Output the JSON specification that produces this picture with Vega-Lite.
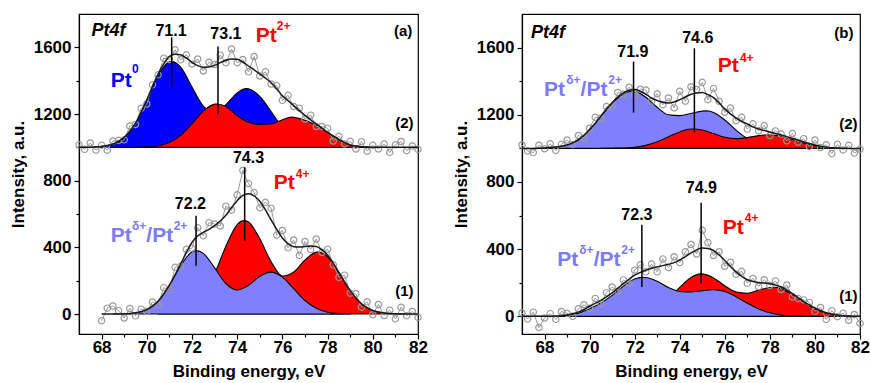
{
"$schema":"https://vega.github.io/schema/vega-lite/v6.json",
"autosize":{"type":"pad"},
"padding":{"left":8,"top":13,"right":0,"bottom":0},
"config":{"font":"Liberation Sans","view":{"stroke":"#000","strokeWidth":1.2},
"axis":{"grid":false,"domainColor":"#000","domainWidth":1.2,"tickColor":"#000","tickWidth":1.2,"labelColor":"#000","titleColor":"#000","labelFont":"Liberation Sans","titleFont":"Liberation Sans","labelFontWeight":"bold","titleFontWeight":"bold","labelFontSize":17,"titleFontSize":17,"labelFlush":false,"labelOverlap":false}},
"datasets":{
"a2":[{"x":67,"y":1015,"f":1000},{"x":67.25,"y":988,"f":1000},{"x":67.5,"y":1026,"f":1001},{"x":67.75,"y":983,"f":1003},{"x":68,"y":1013,"f":1005},{"x":68.25,"y":983,"f":1011},{"x":68.5,"y":1038,"f":1020},{"x":68.75,"y":1042,"f":1037},{"x":69,"y":1045,"f":1060},{"x":69.25,"y":1128,"f":1098},{"x":69.5,"y":1137,"f":1145},{"x":69.75,"y":1234,"f":1212},{"x":70,"y":1260,"f":1285},{"x":70.25,"y":1375,"f":1365},{"x":70.5,"y":1435,"f":1440},{"x":70.75,"y":1535,"f":1500},{"x":71,"y":1527,"f":1545},{"x":71.25,"y":1585,"f":1558},{"x":71.5,"y":1525,"f":1555},{"x":71.75,"y":1555,"f":1535},{"x":72,"y":1500,"f":1510},{"x":72.25,"y":1530,"f":1490},{"x":72.5,"y":1458,"f":1480},{"x":72.75,"y":1510,"f":1482},{"x":73,"y":1497,"f":1492},{"x":73.25,"y":1553,"f":1508},{"x":73.5,"y":1507,"f":1522},{"x":73.75,"y":1590,"f":1530},{"x":74,"y":1508,"f":1528},{"x":74.25,"y":1527,"f":1512},{"x":74.5,"y":1453,"f":1488},{"x":74.75,"y":1545,"f":1465},{"x":75,"y":1428,"f":1440},{"x":75.25,"y":1453,"f":1415},{"x":75.5,"y":1380,"f":1388},{"x":75.75,"y":1370,"f":1350},{"x":76,"y":1282,"f":1310},{"x":76.25,"y":1312,"f":1280},{"x":76.5,"y":1245,"f":1250},{"x":76.75,"y":1235,"f":1220},{"x":77,"y":1170,"f":1192},{"x":77.25,"y":1193,"f":1165},{"x":77.5,"y":1125,"f":1140},{"x":77.75,"y":1125,"f":1115},{"x":78,"y":1115,"f":1090},{"x":78.25,"y":1038,"f":1068},{"x":78.5,"y":1066,"f":1048},{"x":78.75,"y":1020,"f":1028},{"x":79,"y":1036,"f":1014},{"x":79.25,"y":990,"f":1008},{"x":79.5,"y":1034,"f":1004},{"x":79.75,"y":977,"f":1002},{"x":80,"y":1012,"f":1000},{"x":80.25,"y":990,"f":1000},{"x":80.5,"y":1020,"f":1000},{"x":80.75,"y":970,"f":1000},{"x":81,"y":1015,"f":1000},{"x":81.25,"y":1035,"f":1000},{"x":81.5,"y":980,"f":1000},{"x":81.75,"y":1008,"f":1000},{"x":82,"y":988,"f":1000}],
"a1":[{"x":68,"y":-40,"f":0},{"x":68.25,"y":35,"f":0},{"x":68.5,"y":48,"f":0},{"x":68.75,"y":20,"f":0},{"x":69,"y":-24,"f":1},{"x":69.25,"y":33,"f":3},{"x":69.5,"y":-11,"f":7},{"x":69.75,"y":29,"f":14},{"x":70,"y":16,"f":26},{"x":70.25,"y":72,"f":47},{"x":70.5,"y":55,"f":77},{"x":70.75,"y":158,"f":120},{"x":71,"y":143,"f":173},{"x":71.25,"y":280,"f":235},{"x":71.5,"y":286,"f":301},{"x":71.75,"y":388,"f":368},{"x":72,"y":395,"f":430},{"x":72.25,"y":518,"f":468},{"x":72.5,"y":470,"f":490},{"x":72.75,"y":548,"f":508},{"x":73,"y":540,"f":530},{"x":73.25,"y":528,"f":558},{"x":73.5,"y":647,"f":592},{"x":73.75,"y":623,"f":638},{"x":74,"y":715,"f":680},{"x":74.25,"y":862,"f":712},{"x":74.5,"y":782,"f":722},{"x":74.75,"y":728,"f":708},{"x":75,"y":637,"f":677},{"x":75.25,"y":670,"f":625},{"x":75.5,"y":635,"f":565},{"x":75.75,"y":473,"f":508},{"x":76,"y":501,"f":456},{"x":76.25,"y":397,"f":422},{"x":76.5,"y":444,"f":404},{"x":76.75,"y":352,"f":402},{"x":77,"y":435,"f":405},{"x":77.25,"y":388,"f":408},{"x":77.5,"y":450,"f":405},{"x":77.75,"y":370,"f":385},{"x":78,"y":389,"f":354},{"x":78.25,"y":295,"f":305},{"x":78.5,"y":220,"f":250},{"x":78.75,"y":233,"f":193},{"x":79,"y":125,"f":140},{"x":79.25,"y":121,"f":96},{"x":79.5,"y":41,"f":61},{"x":79.75,"y":73,"f":38},{"x":80,"y":-4,"f":21},{"x":80.25,"y":57,"f":12},{"x":80.5,"y":-9,"f":6},{"x":80.75,"y":23,"f":3},{"x":81,"y":-29,"f":1},{"x":81.25,"y":40,"f":0},{"x":81.5,"y":-10,"f":0},{"x":81.75,"y":15,"f":0},{"x":82,"y":-20,"f":0}],
"b2":[{"x":67,"y":1020,"f":1000},{"x":67.25,"y":985,"f":1000},{"x":67.5,"y":975,"f":1000},{"x":67.75,"y":1019,"f":1001},{"x":68,"y":998,"f":1003},{"x":68.25,"y":1027,"f":1005},{"x":68.5,"y":988,"f":1008},{"x":68.75,"y":1025,"f":1013},{"x":69,"y":1050,"f":1020},{"x":69.25,"y":1023,"f":1033},{"x":69.5,"y":1077,"f":1052},{"x":69.75,"y":1060,"f":1078},{"x":70,"y":1120,"f":1112},{"x":70.25,"y":1185,"f":1150},{"x":70.5,"y":1180,"f":1192},{"x":70.75,"y":1249,"f":1234},{"x":71,"y":1247,"f":1272},{"x":71.25,"y":1333,"f":1305},{"x":71.5,"y":1322,"f":1330},{"x":71.75,"y":1364,"f":1346},{"x":72,"y":1320,"f":1350},{"x":72.25,"y":1352,"f":1340},{"x":72.5,"y":1347,"f":1322},{"x":72.75,"y":1280,"f":1300},{"x":73,"y":1325,"f":1285},{"x":73.25,"y":1260,"f":1275},{"x":73.5,"y":1300,"f":1270},{"x":73.75,"y":1241,"f":1276},{"x":74,"y":1340,"f":1290},{"x":74.25,"y":1281,"f":1306},{"x":74.5,"y":1367,"f":1322},{"x":74.75,"y":1350,"f":1330},{"x":75,"y":1393,"f":1333},{"x":75.25,"y":1290,"f":1320},{"x":75.5,"y":1357,"f":1302},{"x":75.75,"y":1280,"f":1270},{"x":76,"y":1215,"f":1235},{"x":76.25,"y":1240,"f":1205},{"x":76.5,"y":1165,"f":1180},{"x":76.75,"y":1185,"f":1160},{"x":77,"y":1115,"f":1145},{"x":77.25,"y":1146,"f":1128},{"x":77.5,"y":1105,"f":1115},{"x":77.75,"y":1136,"f":1106},{"x":78,"y":1076,"f":1098},{"x":78.25,"y":1104,"f":1089},{"x":78.5,"y":1085,"f":1080},{"x":78.75,"y":1045,"f":1070},{"x":79,"y":1088,"f":1060},{"x":79.25,"y":1037,"f":1049},{"x":79.5,"y":1058,"f":1038},{"x":79.75,"y":1011,"f":1029},{"x":80,"y":1050,"f":1020},{"x":80.25,"y":1005,"f":1013},{"x":80.5,"y":1022,"f":1007},{"x":80.75,"y":969,"f":1004},{"x":81,"y":1024,"f":1002},{"x":81.25,"y":991,"f":1001},{"x":81.5,"y":1018,"f":1000},{"x":81.75,"y":972,"f":1000},{"x":82,"y":995,"f":1000}],
"b1":[{"x":67,"y":20,"f":0},{"x":67.25,"y":-15,"f":0},{"x":67.5,"y":25,"f":0},{"x":67.75,"y":-66,"f":0},{"x":68,"y":-10,"f":0},{"x":68.25,"y":16,"f":1},{"x":68.5,"y":-18,"f":2},{"x":68.75,"y":29,"f":4},{"x":69,"y":18,"f":8},{"x":69.25,"y":0,"f":15},{"x":69.5,"y":45,"f":25},{"x":69.75,"y":69,"f":41},{"x":70,"y":48,"f":60},{"x":70.25,"y":107,"f":77},{"x":70.5,"y":75,"f":95},{"x":70.75,"y":141,"f":116},{"x":71,"y":175,"f":140},{"x":71.25,"y":149,"f":167},{"x":71.5,"y":217,"f":195},{"x":71.75,"y":196,"f":221},{"x":72,"y":275,"f":245},{"x":72.25,"y":307,"f":262},{"x":72.5,"y":265,"f":275},{"x":72.75,"y":311,"f":286},{"x":73,"y":265,"f":295},{"x":73.25,"y":342,"f":302},{"x":73.5,"y":290,"f":310},{"x":73.75,"y":355,"f":320},{"x":74,"y":320,"f":335},{"x":74.25,"y":384,"f":356},{"x":74.5,"y":428,"f":378},{"x":74.75,"y":371,"f":396},{"x":75,"y":512,"f":407},{"x":75.25,"y":439,"f":404},{"x":75.5,"y":362,"f":392},{"x":75.75,"y":385,"f":365},{"x":76,"y":298,"f":333},{"x":76.25,"y":322,"f":297},{"x":76.5,"y":250,"f":265},{"x":76.75,"y":268,"f":238},{"x":77,"y":198,"f":218},{"x":77.25,"y":226,"f":208},{"x":77.5,"y":177,"f":202},{"x":77.75,"y":218,"f":198},{"x":78,"y":184,"f":194},{"x":78.25,"y":211,"f":186},{"x":78.5,"y":160,"f":175},{"x":78.75,"y":187,"f":157},{"x":79,"y":116,"f":136},{"x":79.25,"y":107,"f":112},{"x":79.5,"y":98,"f":88},{"x":79.75,"y":83,"f":68},{"x":80,"y":30,"f":50},{"x":80.25,"y":53,"f":35},{"x":80.5,"y":-18,"f":22},{"x":80.75,"y":34,"f":14},{"x":81,"y":-2,"f":8},{"x":81.25,"y":19,"f":4},{"x":81.5,"y":-23,"f":2},{"x":81.75,"y":11,"f":1},{"x":82,"y":-42,"f":0}],
"a2blue":[{"x":67.5,"y":1000},{"x":68,"y":1004},{"x":68.5,"y":1018},{"x":69,"y":1057},{"x":69.5,"y":1143},{"x":70,"y":1282},{"x":70.5,"y":1431},{"x":71,"y":1514},{"x":71.1,"y":1516},{"x":71.5,"y":1481},{"x":72,"y":1362},{"x":72.5,"y":1248},{"x":73,"y":1211},{"x":73.5,"y":1256},{"x":74,"y":1327},{"x":74.4,"y":1352},{"x":74.5,"y":1351},{"x":75,"y":1305},{"x":75.5,"y":1215},{"x":76,"y":1120},{"x":76.5,"y":1055},{"x":77,"y":1020},{"x":77.5,"y":1006},{"x":78,"y":1000}],
"a2red":[{"x":69.5,"y":1000},{"x":70,"y":1002},{"x":70.5,"y":1009},{"x":71,"y":1029},{"x":71.5,"y":1072},{"x":72,"y":1142},{"x":72.5,"y":1217},{"x":73,"y":1259},{"x":73.1,"y":1260},{"x":73.5,"y":1245},{"x":74,"y":1190},{"x":74.5,"y":1150},{"x":75,"y":1138},{"x":75.5,"y":1140},{"x":76,"y":1165},{"x":76.4,"y":1181},{"x":76.5,"y":1180},{"x":77,"y":1163},{"x":77.5,"y":1133},{"x":78,"y":1090},{"x":78.5,"y":1045},{"x":79,"y":1015},{"x":79.5,"y":1004},{"x":80,"y":1000}],
"a1lb":[{"x":68.5,"y":0},{"x":69,"y":1},{"x":69.5,"y":7},{"x":70,"y":26},{"x":70.5,"y":77},{"x":71,"y":171},{"x":71.5,"y":290},{"x":72,"y":373},{"x":72.2,"y":380},{"x":72.5,"y":364},{"x":73,"y":277},{"x":73.5,"y":183},{"x":74,"y":144},{"x":74.5,"y":172},{"x":75,"y":226},{"x":75.5,"y":251},{"x":76,"y":221},{"x":76.5,"y":152},{"x":77,"y":81},{"x":77.5,"y":34},{"x":78,"y":11},{"x":78.5,"y":3},{"x":79,"y":0}],
"a1red":[{"x":70.5,"y":0},{"x":71,"y":2},{"x":71.5,"y":11},{"x":72,"y":40},{"x":72.5,"y":111},{"x":73,"y":241},{"x":73.5,"y":407},{"x":74,"y":536},{"x":74.3,"y":560},{"x":74.5,"y":552},{"x":75,"y":451},{"x":75.5,"y":314},{"x":76,"y":228},{"x":76.5,"y":252},{"x":77,"y":324},{"x":77.5,"y":371},{"x":77.6,"y":372},{"x":78,"y":343},{"x":78.5,"y":247},{"x":79,"y":139},{"x":79.5,"y":61},{"x":80,"y":21},{"x":80.5,"y":6},{"x":81,"y":1},{"x":81.5,"y":0}],
"b2lb":[{"x":67.5,"y":1000},{"x":68,"y":1003},{"x":68.5,"y":1008},{"x":69,"y":1020},{"x":69.5,"y":1050},{"x":70,"y":1110},{"x":70.5,"y":1190},{"x":71,"y":1268},{"x":71.5,"y":1325},{"x":71.9,"y":1342},{"x":72,"y":1341},{"x":72.5,"y":1304},{"x":73,"y":1245},{"x":73.5,"y":1200},{"x":74,"y":1195},{"x":74.5,"y":1208},{"x":75,"y":1222},{"x":75.2,"y":1223},{"x":75.5,"y":1214},{"x":76,"y":1169},{"x":76.5,"y":1109},{"x":77,"y":1058},{"x":77.5,"y":1025},{"x":78,"y":1009},{"x":78.5,"y":1002},{"x":79,"y":1000}],
"b2red":[{"x":70.5,"y":1000},{"x":71,"y":1001},{"x":71.5,"y":1002},{"x":72,"y":1007},{"x":72.5,"y":1018},{"x":73,"y":1040},{"x":73.5,"y":1069},{"x":74,"y":1098},{"x":74.5,"y":1115},{"x":74.6,"y":1115},{"x":75,"y":1109},{"x":75.5,"y":1088},{"x":76,"y":1066},{"x":76.5,"y":1058},{"x":77,"y":1064},{"x":77.5,"y":1076},{"x":78,"y":1081},{"x":78.5,"y":1072},{"x":79,"y":1053},{"x":79.5,"y":1032},{"x":80,"y":1015},{"x":80.5,"y":1006},{"x":81,"y":1002},{"x":81.5,"y":1000}],
"b1lb":[{"x":67.5,"y":0},{"x":68,"y":0},{"x":68.5,"y":2},{"x":69,"y":6},{"x":69.5,"y":18},{"x":70,"y":45},{"x":70.5,"y":80},{"x":71,"y":125},{"x":71.5,"y":180},{"x":72,"y":222},{"x":72.3,"y":232},{"x":72.5,"y":231},{"x":73,"y":209},{"x":73.5,"y":172},{"x":74,"y":148},{"x":74.5,"y":145},{"x":75,"y":153},{"x":75.5,"y":158},{"x":76,"y":148},{"x":76.5,"y":117},{"x":77,"y":78},{"x":77.5,"y":44},{"x":78,"y":21},{"x":78.5,"y":8},{"x":79,"y":3},{"x":79.5,"y":1},{"x":80,"y":0}],
"b1red":[{"x":71,"y":0},{"x":71.5,"y":2},{"x":72,"y":7},{"x":72.5,"y":21},{"x":73,"y":52},{"x":73.5,"y":105},{"x":74,"y":172},{"x":74.5,"y":231},{"x":74.95,"y":253},{"x":75.5,"y":229},{"x":76,"y":182},{"x":76.5,"y":145},{"x":77,"y":138},{"x":77.5,"y":156},{"x":78,"y":172},{"x":78.2,"y":173},{"x":78.5,"y":165},{"x":79,"y":131},{"x":79.5,"y":85},{"x":80,"y":45},{"x":80.5,"y":19},{"x":81,"y":7},{"x":81.5,"y":2},{"x":82,"y":0}],
"ann":[{"p":"a","x":71.1,"y":1360,"y2":1660},{"p":"a","x":73.15,"y":1200,"y2":1605},{"p":"a","x":74.33,"y":440,"y2":880},{"p":"a","x":72.18,"y":290,"y2":590},{"p":"b","x":71.95,"y":1213,"y2":1517},{"p":"b","x":74.65,"y":1095,"y2":1596},{"p":"b","x":74.95,"y":195,"y2":677},{"p":"b","x":72.32,"y":175,"y2":545}],
"txt":[
{"p":"a","role":"head","x":67.55,"y":1696,"t":"Pt4f"},
{"p":"a","role":"tag","x":81.75,"y":1696,"t":"(a)"},
{"p":"a","role":"value","x":71.07,"y":1696,"t":"71.1"},
{"p":"a","role":"value","x":73.5,"y":1678,"t":"73.1"},
{"p":"a","role":"species","sp":"Pt2+","x":74.82,"y":1666,"t":"Pt"},
{"p":"a","role":"charge","sp":"Pt2+","x":75.75,"y":1726,"t":"2+"},
{"p":"a","role":"species","sp":"Pt0","x":68.41,"y":1396,"t":"Pt"},
{"p":"a","role":"charge","sp":"Pt0","x":69.34,"y":1468,"t":"0"},
{"p":"a","role":"tag","x":81.8,"y":1146,"t":"(2)"},
{"p":"a","role":"value","x":74.5,"y":936,"t":"74.3"},
{"p":"a","role":"species","sp":"Pt4+","x":75.62,"y":786,"t":"Pt"},
{"p":"a","role":"charge","sp":"Pt4+","x":76.59,"y":838,"t":"4+"},
{"p":"a","role":"value","x":71.93,"y":660,"t":"72.2"},
{"p":"a","role":"species","sp":"Ptd","x":68.41,"y":470,"t":"Pt"},
{"p":"a","role":"charge","sp":"Ptd","x":69.34,"y":530,"t":"δ+"},
{"p":"a","role":"species","sp":"Ptd","x":69.98,"y":470,"t":"/Pt"},
{"p":"a","role":"charge","sp":"Ptd","x":71.19,"y":530,"t":"2+"},
{"p":"a","role":"tag","x":81.8,"y":140,"t":"(1)"},
{"p":"b","role":"head","x":67.4,"y":1687,"t":"Pt4f"},
{"p":"b","role":"tag","x":81.71,"y":1687,"t":"(b)"},
{"p":"b","role":"value","x":71.92,"y":1576,"t":"71.9"},
{"p":"b","role":"value","x":74.8,"y":1655,"t":"74.6"},
{"p":"b","role":"species","sp":"Pt4+","x":75.69,"y":1488,"t":"Pt"},
{"p":"b","role":"charge","sp":"Pt4+","x":76.67,"y":1537,"t":"4+"},
{"p":"b","role":"species","sp":"Ptd","x":67.98,"y":1350,"t":"Pt"},
{"p":"b","role":"charge","sp":"Ptd","x":68.96,"y":1409,"t":"δ+"},
{"p":"b","role":"species","sp":"Ptd","x":69.6,"y":1350,"t":"/Pt"},
{"p":"b","role":"charge","sp":"Ptd","x":70.83,"y":1409,"t":"2+"},
{"p":"b","role":"tag","x":81.89,"y":1144,"t":"(2)"},
{"p":"b","role":"value","x":74.96,"y":766,"t":"74.9"},
{"p":"b","role":"value","x":72.1,"y":605,"t":"72.3"},
{"p":"b","role":"species","sp":"Pt4+","x":75.91,"y":524,"t":"Pt"},
{"p":"b","role":"charge","sp":"Pt4+","x":76.89,"y":584,"t":"4+"},
{"p":"b","role":"species","sp":"Ptd","x":68.56,"y":334,"t":"Pt"},
{"p":"b","role":"charge","sp":"Ptd","x":69.54,"y":394,"t":"δ+"},
{"p":"b","role":"species","sp":"Ptd","x":70.18,"y":334,"t":"/Pt"},
{"p":"b","role":"charge","sp":"Ptd","x":71.41,"y":394,"t":"2+"},
{"p":"b","role":"tag","x":81.89,"y":124,"t":"(1)"}]
},
"spacing":22,
"resolve":{"scale":{"x":"independent","y":"independent","color":"independent"}},
"hconcat":[
{"width":339,"height":320,
"encoding":{
"x":{"field":"x","type":"quantitative","scale":{"domain":[67,82],"nice":false,"zero":false},"axis":{"title":"Binding energy, eV","values":[68,69,70,71,72,73,74,75,76,77,78,79,80,81,82],"format":"d","labelExpr":"datum.value % 2 === 0 ? datum.label : ''","tickSize":{"condition":{"test":"datum.value % 2 === 0","value":5},"value":3},"labelPadding":0,"titlePadding":8}},
"y":{"field":"y","type":"quantitative","scale":{"domain":[-120,1800],"nice":false,"zero":false},"axis":{"title":"Intensity, a.u.","values":[0,200,400,600,800,1000,1200,1400,1600],"format":"d","labelExpr":"datum.value % 400 === 0 ? datum.label : ''","tickSize":{"condition":{"test":"datum.value % 400 === 0","value":5},"value":3},"labelPadding":3,"titlePadding":8,"minExtent":44,"maxExtent":44}}},
"layer":[
{"data":{"name":"a2blue"},"mark":{"type":"area","fill":"#0000ff","stroke":"#000","strokeWidth":1.1,"interpolate":"monotone"},"encoding":{"y2":{"datum":1000}}},
{"data":{"name":"a2red"},"mark":{"type":"area","fill":"#ff0000","stroke":"#000","strokeWidth":1.1,"interpolate":"monotone"},"encoding":{"y2":{"datum":1000}}},
{"data":{"name":"a1red"},"mark":{"type":"area","fill":"#ff0000","stroke":"#000","strokeWidth":1.1,"interpolate":"monotone"},"encoding":{"y2":{"datum":0}}},
{"data":{"name":"a1lb"},"mark":{"type":"area","fill":"#8080ff","stroke":"#000","strokeWidth":1.1,"interpolate":"monotone"},"encoding":{"y2":{"datum":0}}},
{"data":{"name":"a2"},"mark":{"type":"line","color":"#9a9a9a","strokeWidth":1}},
{"data":{"name":"a1"},"mark":{"type":"line","color":"#9a9a9a","strokeWidth":1}},
{"data":{"name":"a2"},"mark":{"type":"point","filled":false,"color":"#999999","size":40,"strokeWidth":1.2,"opacity":1}},
{"data":{"name":"a1"},"mark":{"type":"point","filled":false,"color":"#999999","size":40,"strokeWidth":1.2,"opacity":1}},
{"data":{"name":"a2"},"mark":{"type":"line","color":"#1a1a1a","strokeWidth":1.5,"interpolate":"monotone"},"encoding":{"y":{"field":"f","type":"quantitative","scale":{"domain":[-120,1800],"nice":false,"zero":false},"axis":{"title":"Intensity, a.u.","values":[0,200,400,600,800,1000,1200,1400,1600],"format":"d","labelExpr":"datum.value % 400 === 0 ? datum.label : ''","tickSize":{"condition":{"test":"datum.value % 400 === 0","value":5},"value":3},"labelPadding":3,"titlePadding":8,"minExtent":44,"maxExtent":44}}}},
{"data":{"name":"a1"},"mark":{"type":"line","color":"#1a1a1a","strokeWidth":1.5,"interpolate":"monotone"},"encoding":{"y":{"field":"f","type":"quantitative","scale":{"domain":[-120,1800],"nice":false,"zero":false},"axis":{"title":"Intensity, a.u.","values":[0,200,400,600,800,1000,1200,1400,1600],"format":"d","labelExpr":"datum.value % 400 === 0 ? datum.label : ''","tickSize":{"condition":{"test":"datum.value % 400 === 0","value":5},"value":3},"labelPadding":3,"titlePadding":8,"minExtent":44,"maxExtent":44}}}},
{"data":{"name":"ann"},"transform":[{"filter":"datum.p === 'a'"}],"mark":{"type":"rule","color":"#000","strokeWidth":1.5},"encoding":{"y2":{"field":"y2"}}},
{"data":{"name":"txt"},"transform":[{"filter":"datum.p === 'a' && datum.role === 'head'"}],"mark":{"type":"text","font":"Liberation Sans","fontSize":18,"fontWeight":"bold","fontStyle":"italic","color":"#000","align":"left","baseline":"middle"},"encoding":{"text":{"field":"t"}}},
{"data":{"name":"txt"},"transform":[{"filter":"datum.p === 'a' && datum.role === 'tag'"}],"mark":{"type":"text","font":"Liberation Sans","fontSize":15,"fontWeight":"bold","color":"#000","align":"right","baseline":"middle"},"encoding":{"text":{"field":"t"}}},
{"data":{"name":"txt"},"transform":[{"filter":"datum.p === 'a' && datum.role === 'value'"}],"mark":{"type":"text","font":"Liberation Sans","fontSize":16,"fontWeight":"bold","color":"#000","align":"center","baseline":"middle"},"encoding":{"text":{"field":"t"}}},
{"data":{"name":"txt"},"transform":[{"filter":"datum.p === 'a' && datum.role === 'species'"}],"mark":{"type":"text","font":"Liberation Sans","fontSize":21,"fontWeight":"bold","align":"left","baseline":"middle"},"encoding":{"text":{"field":"t"},"color":{"field":"sp","type":"nominal","scale":{"domain":["Pt0","Pt2+","Pt4+","Ptd"],"range":["#0000ff","#ff0000","#ff0000","#7b7bf5"]},"legend":null}}},
{"data":{"name":"txt"},"transform":[{"filter":"datum.p === 'a' && datum.role === 'charge'"}],"mark":{"type":"text","font":"Liberation Sans","fontSize":12,"fontWeight":"bold","align":"left","baseline":"middle"},"encoding":{"text":{"field":"t"},"color":{"field":"sp","type":"nominal","scale":{"domain":["Pt0","Pt2+","Pt4+","Ptd"],"range":["#0000ff","#ff0000","#ff0000","#7b7bf5"]},"legend":null}}}
]},
{"width":338,"height":320,
"encoding":{
"x":{"field":"x","type":"quantitative","scale":{"domain":[67,82],"nice":false,"zero":false},"axis":{"title":"Binding energy, eV","values":[68,69,70,71,72,73,74,75,76,77,78,79,80,81,82],"format":"d","labelExpr":"datum.value % 2 === 0 ? datum.label : ''","tickSize":{"condition":{"test":"datum.value % 2 === 0","value":5},"value":3},"labelPadding":0,"titlePadding":8}},
"y":{"field":"y","type":"quantitative","scale":{"domain":[-105,1800],"nice":false,"zero":false},"axis":{"title":"Intensity, a.u.","values":[0,200,400,600,800,1000,1200,1400,1600],"format":"d","labelExpr":"datum.value % 400 === 0 ? datum.label : ''","tickSize":{"condition":{"test":"datum.value % 400 === 0","value":5},"value":3},"labelPadding":3,"titlePadding":8,"minExtent":44,"maxExtent":44}}},
"layer":[
{"data":{"name":"b2lb"},"mark":{"type":"area","fill":"#8080ff","stroke":"#000","strokeWidth":1.1,"interpolate":"monotone"},"encoding":{"y2":{"datum":1000}}},
{"data":{"name":"b2red"},"mark":{"type":"area","fill":"#ff0000","stroke":"#000","strokeWidth":1.1,"interpolate":"monotone"},"encoding":{"y2":{"datum":1000}}},
{"data":{"name":"b1red"},"mark":{"type":"area","fill":"#ff0000","stroke":"#000","strokeWidth":1.1,"interpolate":"monotone"},"encoding":{"y2":{"datum":0}}},
{"data":{"name":"b1lb"},"mark":{"type":"area","fill":"#8080ff","stroke":"#000","strokeWidth":1.1,"interpolate":"monotone"},"encoding":{"y2":{"datum":0}}},
{"data":{"name":"b2"},"mark":{"type":"line","color":"#9a9a9a","strokeWidth":1}},
{"data":{"name":"b1"},"mark":{"type":"line","color":"#9a9a9a","strokeWidth":1}},
{"data":{"name":"b2"},"mark":{"type":"point","filled":false,"color":"#999999","size":40,"strokeWidth":1.2,"opacity":1}},
{"data":{"name":"b1"},"mark":{"type":"point","filled":false,"color":"#999999","size":40,"strokeWidth":1.2,"opacity":1}},
{"data":{"name":"b2"},"mark":{"type":"line","color":"#1a1a1a","strokeWidth":1.5,"interpolate":"monotone"},"encoding":{"y":{"field":"f","type":"quantitative","scale":{"domain":[-105,1800],"nice":false,"zero":false},"axis":{"title":"Intensity, a.u.","values":[0,200,400,600,800,1000,1200,1400,1600],"format":"d","labelExpr":"datum.value % 400 === 0 ? datum.label : ''","tickSize":{"condition":{"test":"datum.value % 400 === 0","value":5},"value":3},"labelPadding":3,"titlePadding":8,"minExtent":44,"maxExtent":44}}}},
{"data":{"name":"b1"},"mark":{"type":"line","color":"#1a1a1a","strokeWidth":1.5,"interpolate":"monotone"},"encoding":{"y":{"field":"f","type":"quantitative","scale":{"domain":[-105,1800],"nice":false,"zero":false},"axis":{"title":"Intensity, a.u.","values":[0,200,400,600,800,1000,1200,1400,1600],"format":"d","labelExpr":"datum.value % 400 === 0 ? datum.label : ''","tickSize":{"condition":{"test":"datum.value % 400 === 0","value":5},"value":3},"labelPadding":3,"titlePadding":8,"minExtent":44,"maxExtent":44}}}},
{"data":{"name":"ann"},"transform":[{"filter":"datum.p === 'b'"}],"mark":{"type":"rule","color":"#000","strokeWidth":1.5},"encoding":{"y2":{"field":"y2"}}},
{"data":{"name":"txt"},"transform":[{"filter":"datum.p === 'b' && datum.role === 'head'"}],"mark":{"type":"text","font":"Liberation Sans","fontSize":18,"fontWeight":"bold","fontStyle":"italic","color":"#000","align":"left","baseline":"middle"},"encoding":{"text":{"field":"t"}}},
{"data":{"name":"txt"},"transform":[{"filter":"datum.p === 'b' && datum.role === 'tag'"}],"mark":{"type":"text","font":"Liberation Sans","fontSize":15,"fontWeight":"bold","color":"#000","align":"right","baseline":"middle"},"encoding":{"text":{"field":"t"}}},
{"data":{"name":"txt"},"transform":[{"filter":"datum.p === 'b' && datum.role === 'value'"}],"mark":{"type":"text","font":"Liberation Sans","fontSize":16,"fontWeight":"bold","color":"#000","align":"center","baseline":"middle"},"encoding":{"text":{"field":"t"}}},
{"data":{"name":"txt"},"transform":[{"filter":"datum.p === 'b' && datum.role === 'species'"}],"mark":{"type":"text","font":"Liberation Sans","fontSize":21,"fontWeight":"bold","align":"left","baseline":"middle"},"encoding":{"text":{"field":"t"},"color":{"field":"sp","type":"nominal","scale":{"domain":["Pt0","Pt2+","Pt4+","Ptd"],"range":["#0000ff","#ff0000","#ff0000","#7b7bf5"]},"legend":null}}},
{"data":{"name":"txt"},"transform":[{"filter":"datum.p === 'b' && datum.role === 'charge'"}],"mark":{"type":"text","font":"Liberation Sans","fontSize":12,"fontWeight":"bold","align":"left","baseline":"middle"},"encoding":{"text":{"field":"t"},"color":{"field":"sp","type":"nominal","scale":{"domain":["Pt0","Pt2+","Pt4+","Ptd"],"range":["#0000ff","#ff0000","#ff0000","#7b7bf5"]},"legend":null}}}
]}
]
}
